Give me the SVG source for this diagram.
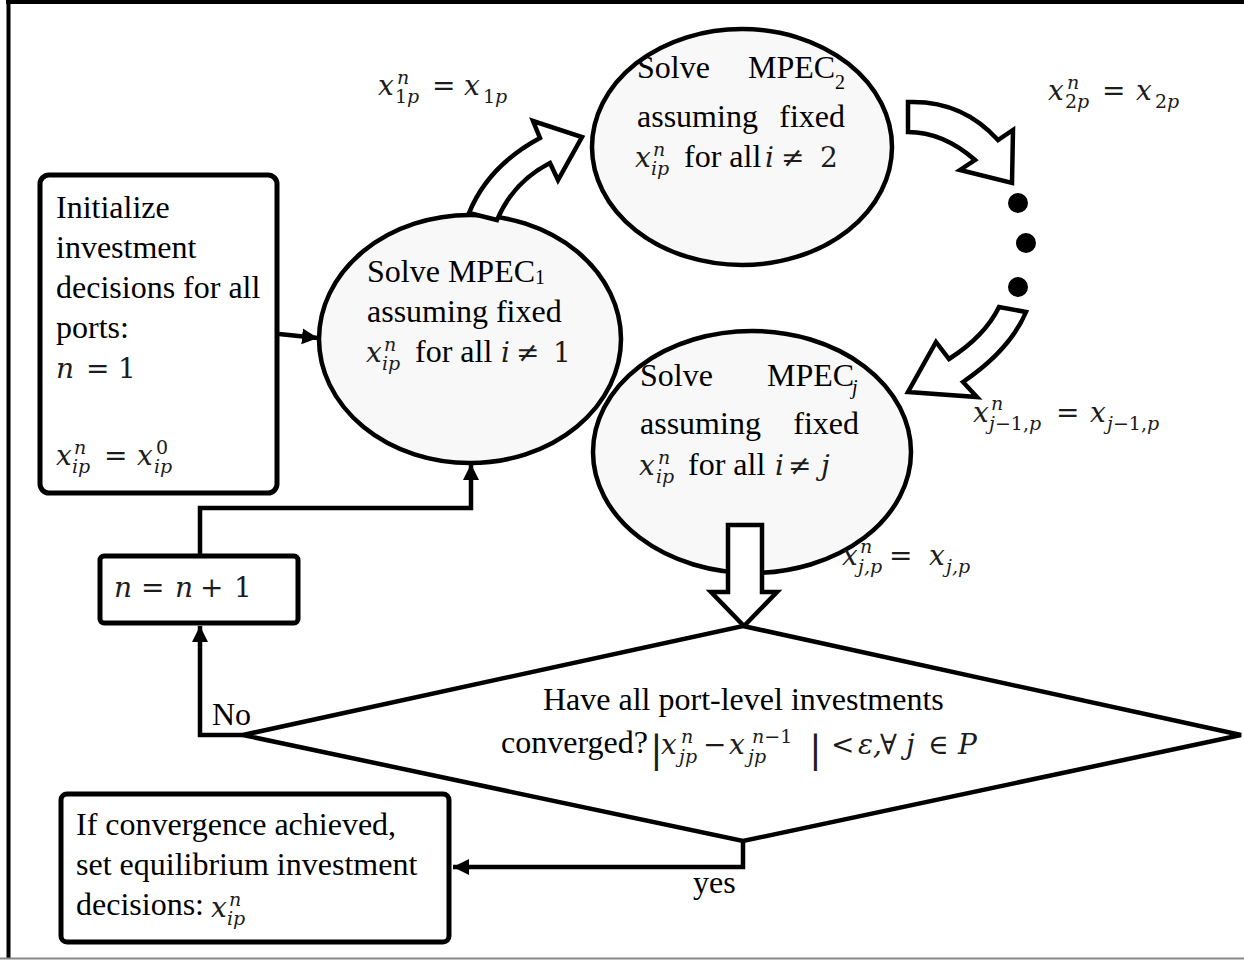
<svg xmlns="http://www.w3.org/2000/svg" width="1244" height="960" viewBox="0 0 1244 960">
<style>
.t{font-family:"Liberation Serif","Times New Roman",serif;font-size:32px;fill:#000}
.ts{font-family:"Liberation Serif","Times New Roman",serif;font-size:20px;fill:#000}
.m{font-family:"DejaVu Serif",serif;font-size:28px;fill:#1c1c1c}
.mi{font-family:"DejaVu Serif",serif;font-size:28px;font-style:italic;fill:#1c1c1c}
.bar{font-family:"DejaVu Serif",serif;font-size:38px;fill:#1c1c1c}
.s{font-family:"DejaVu Serif",serif;font-size:19px;fill:#1c1c1c}
.si{font-family:"DejaVu Serif",serif;font-size:19px;font-style:italic;fill:#1c1c1c}
.box{fill:#fff;stroke:#000;stroke-width:5}
.ell{fill:#f8f8f8;stroke:#000;stroke-width:4.5}
.blk{fill:#fff;stroke:#000;stroke-width:4.5;stroke-linejoin:miter}
.con{fill:none;stroke:#000;stroke-width:4.5}
</style>
<defs>
<marker id="ah" markerUnits="userSpaceOnUse" markerWidth="18" markerHeight="18" refX="16" refY="8" orient="auto">
<path d="M0,0 L16,8 L0,16 Z" fill="#000"/>
</marker>
</defs>
<rect width="1244" height="960" fill="#fff"/>
<g id="frame">
<line x1="6" y1="2" x2="1244" y2="2" stroke="#000" stroke-width="4"/>
<line x1="8.5" y1="0" x2="8.5" y2="958" stroke="#000" stroke-width="4"/>
<line x1="0" y1="958.5" x2="1244" y2="958.5" stroke="#888" stroke-width="2"/>
</g>

<g id="connectors">
<line class="con" x1="279" y1="334" x2="318" y2="338" marker-end="url(#ah)"/>
<polyline class="con" points="200,556 200,508 471,508 471,464" marker-end="url(#ah)"/>
<polyline class="con" points="243,735 200,735 200,626" marker-end="url(#ah)"/>
<polyline class="con" points="743,841 743,867 453,867" marker-end="url(#ah)"/>
</g>

<g id="init">
<rect class="box" x="40" y="175" width="237" height="318" rx="9"/>
<text class="t" x="56" y="218">Initialize</text>
<text class="t" x="56" y="258">investment</text>
<text class="t" x="56" y="298">decisions for all</text>
<text class="t" x="56" y="338">ports:</text>
<text class="mi" x="56" y="378">n</text><text class="m" x="86" y="378">=</text><text class="m" x="118" y="378">1</text>
<text class="mi" x="56" y="465">x</text><text class="si" x="74" y="454">n</text><text class="si" x="72" y="473">ip</text>
<text class="m" x="104" y="465">=</text>
<text class="mi" x="137" y="465">x</text><text class="s" x="156" y="454">0</text><text class="si" x="154" y="473">ip</text>
</g>

<g id="mpec1">
<ellipse class="ell" cx="470" cy="339" rx="151" ry="124"/>
<text class="t" x="367" y="282">Solve MPEC</text><text class="ts" x="535" y="284">1</text>
<text class="t" x="367" y="322">assuming fixed</text>
<text class="mi" x="366" y="362">x</text><text class="si" x="384" y="351">n</text><text class="si" x="382" y="370">ip</text>
<text class="t" x="415" y="362">for all</text>
<text class="mi" x="501" y="362">i</text><text class="m" x="516" y="362">≠</text><text class="m" x="553" y="362">1</text>
</g>

<g id="mpecj">
<ellipse class="ell" cx="752" cy="452" rx="159" ry="121"/>
<text class="t" x="640" y="386">Solve</text>
<text class="t" x="767" y="386">MPEC</text><text class="ts" x="852" y="394" font-style="italic">j</text>
<text class="t" x="640" y="434">assuming</text>
<text class="t" x="859" y="434" text-anchor="end">fixed</text>
<text class="mi" x="639" y="475">x</text><text class="si" x="658" y="464">n</text><text class="si" x="656" y="483">ip</text>
<text class="t" x="688" y="475">for all</text>
<text class="mi" x="775" y="475">i</text><text class="m" x="788" y="475">≠</text><text class="mi" x="821" y="475">j</text>
</g>

<g id="mpec2">
<ellipse class="ell" cx="742" cy="147" rx="150" ry="118"/>
<text class="t" x="637" y="78">Solve</text>
<text class="t" x="748" y="78">MPEC</text><text class="ts" x="835" y="89">2</text>
<text class="t" x="637" y="127">assuming</text>
<text class="t" x="845" y="127" text-anchor="end">fixed</text>
<text class="mi" x="635" y="167">x</text><text class="si" x="653" y="156">n</text><text class="si" x="651" y="175">ip</text>
<text class="t" x="684" y="167">for all</text>
<text class="mi" x="765" y="167">i</text><text class="m" x="781" y="167">≠</text><text class="m" x="820" y="167">2</text>
</g>

<g id="block-arrows">
<path class="blk" d="M469,213 Q488,166 540,138 L533,121 L582,137 L558,180 L550,163 Q513,182 497,220 Z"/>
<path class="blk" d="M908,102 Q962,100 998,140 L1013,130 L1012,183 L960,170 L975,160 Q943,132 908,132 Z"/>
<path class="blk" d="M999,307 Q985,336 949,359 L936,342 L908,392 L977,397 L963,382 Q1010,350 1026,312 Z"/>
<polygon class="blk" points="728,525 762,525 762,592 777,592 744,626 711,592 728,592"/>
</g>

<g id="dots">
<circle cx="1018" cy="203" r="10" fill="#000"/>
<circle cx="1026" cy="243" r="10" fill="#000"/>
<circle cx="1018" cy="287" r="10" fill="#000"/>
</g>

<g id="labels">
<text class="mi" x="378" y="95">x</text><text class="si" x="397" y="84">n</text><text class="s" x="395" y="103">1<tspan font-style="italic">p</tspan></text>
<text class="m" x="432" y="95">=</text>
<text class="mi" x="464" y="95">x</text><text class="s" x="483" y="103">1<tspan font-style="italic">p</tspan></text>

<text class="mi" x="1048" y="100">x</text><text class="si" x="1067" y="89">n</text><text class="s" x="1065" y="108">2<tspan font-style="italic">p</tspan></text>
<text class="m" x="1102" y="100">=</text>
<text class="mi" x="1136" y="100">x</text><text class="s" x="1155" y="108">2<tspan font-style="italic">p</tspan></text>

<text class="mi" x="973" y="422">x</text><text class="si" x="991" y="410">n</text><text class="s" x="989" y="430"><tspan font-style="italic">j</tspan>−1,<tspan font-style="italic">p</tspan></text>
<text class="m" x="1056" y="422">=</text>
<text class="mi" x="1090" y="422">x</text><text class="s" x="1107" y="430"><tspan font-style="italic">j</tspan>−1,<tspan font-style="italic">p</tspan></text>

<text class="mi" x="842" y="565">x</text><text class="si" x="860" y="553">n</text><text class="si" x="858" y="573">j,p</text>
<text class="m" x="889" y="565">=</text>
<text class="mi" x="929" y="565">x</text><text class="si" x="946" y="573">j,p</text>
</g>

<g id="inc">
<rect class="box" x="100" y="556" width="198" height="67" rx="4"/>
<text class="mi" x="114" y="597">n</text><text class="m" x="141" y="597">=</text><text class="mi" x="175" y="597">n</text><text class="m" x="200" y="597">+</text><text class="m" x="234" y="597">1</text>
</g>

<g id="decision">
<polygon class="blk" points="743,626 1241,735 743,841 243,735"/>
<text class="t" x="543" y="710">Have all port-level investments</text>
<text class="t" x="501" y="753">converged?</text>
<text class="bar" x="650" y="762">|</text>
<text class="mi" x="661" y="754">x</text><text class="si" x="681" y="743">n</text><text class="si" x="679" y="763">jp</text>
<text class="m" x="703" y="754">−</text>
<text class="mi" x="729" y="754">x</text><text class="s" x="752" y="743"><tspan font-style="italic">n</tspan>−1</text><text class="si" x="748" y="763">jp</text>
<text class="bar" x="809" y="762">|</text>
<text class="m" x="831" y="754">&lt;</text>
<text class="mi" x="858" y="754">ε,</text>
<text class="m" x="880" y="754">∀</text>
<text class="mi" x="906" y="754">j</text>
<text class="m" x="928" y="754">∈</text>
<text class="mi" x="958" y="754">P</text>
<text class="t" x="212" y="725">No</text>
<text class="t" x="693" y="893">yes</text>
</g>

<g id="final">
<rect class="box" x="61" y="794" width="388" height="148" rx="6"/>
<text class="t" x="76" y="835">If convergence achieved,</text>
<text class="t" x="76" y="875">set equilibrium investment</text>
<text class="t" x="76" y="915">decisions:</text>
<text class="mi" x="211" y="917">x</text><text class="si" x="229" y="906">n</text><text class="si" x="227" y="925">ip</text>
</g>
</svg>
